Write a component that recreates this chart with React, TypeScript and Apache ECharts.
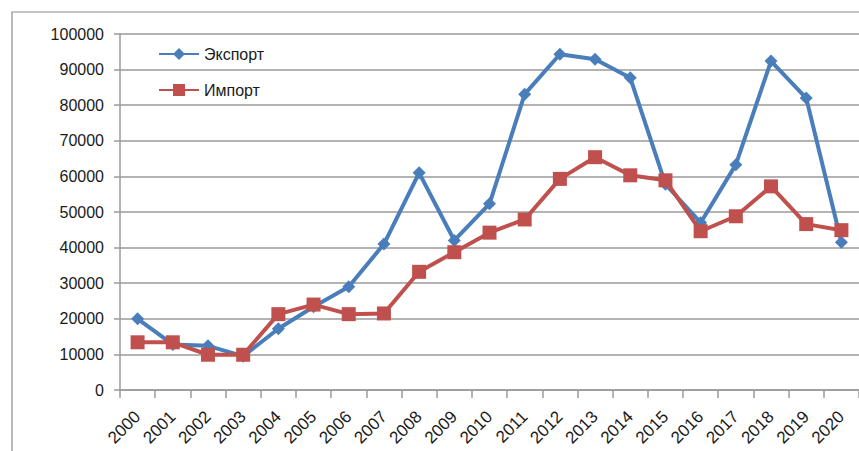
import React, { useEffect, useRef } from "react";
import * as echarts from "echarts";

const years = ["2000","2001","2002","2003","2004","2005","2006","2007","2008","2009","2010","2011","2012","2013","2014","2015","2016","2017","2018","2019","2020"];
const exportValues = [20000, 12800, 12400, 9500, 17200, 23400, 29000, 41000, 61000, 42000, 52300, 83100, 94300, 92900, 87700, 57800, 47000, 63300, 92400, 82000, 41500];
const importValues = [13400, 13400, 9900, 9900, 21300, 24000, 21300, 21500, 33200, 38700, 44200, 47900, 59300, 65400, 60300, 58900, 44600, 48800, 57200, 46600, 44900];
const yTicks = { min: 0, max: 100000, interval: 10000 };

export default function App() {
  const ref = useRef<HTMLDivElement>(null);
  useEffect(() => {
    document.body.style.margin = "0";
    const chart = echarts.init(ref.current!, undefined, { renderer: "svg" });
    const font = "'Liberation Sans', Arial, sans-serif";
    chart.setOption({
      animation: false,
      backgroundColor: "#ffffff",
      textStyle: { fontFamily: font },
      graphic: [
        {
          type: "rect",
          shape: { x: 12, y: 12, width: 900, height: 500 },
          style: { fill: "none", stroke: "#8c8c8c", lineWidth: 1.2 },
          z: -1,
        },
      ],
      legend: {
        orient: "vertical",
        left: 153,
        top: 41,
        itemGap: 20,
        itemWidth: 40,
        itemHeight: 15,
        textStyle: { fontSize: 16, color: "#1a1a1a", fontFamily: font },
        data: ["Экспорт", "Импорт"],
      },
      grid: { left: 120, right: -1, top: 34, bottom: 61 },
      xAxis: {
        type: "category",
        data: years,
        boundaryGap: true,
        axisLine: { lineStyle: { color: "#9a9a9a", width: 1.5 } },
        axisTick: { show: true, interval: 0, length: 8, lineStyle: { color: "#9a9a9a", width: 1.5 } },
        axisLabel: { interval: 0, rotate: 45, fontSize: 17, color: "#1a1a1a", margin: 24, fontFamily: font },
      },
      yAxis: {
        type: "value",
        min: yTicks.min,
        max: yTicks.max,
        interval: yTicks.interval,
        axisLine: { show: true, lineStyle: { color: "#9a9a9a", width: 1.5 } },
        axisTick: { show: true, length: 6, lineStyle: { color: "#9a9a9a", width: 1.5 } },
        axisLabel: { fontSize: 16, color: "#1a1a1a", margin: 16, fontFamily: font, formatter: (v: number) => String(v) },
        splitLine: { lineStyle: { color: "#9a9a9a", width: 1.5 } },
      },
      series: [
        {
          name: "Экспорт",
          type: "line",
          data: exportValues,
          symbol: "diamond",
          symbolSize: 13,
          lineStyle: { color: "#4a7ebb", width: 4 },
          itemStyle: { color: "#4a7ebb" },
          z: 2,
        },
        {
          name: "Импорт",
          type: "line",
          data: importValues,
          symbol: "rect",
          symbolSize: 14,
          lineStyle: { color: "#c0504d", width: 4 },
          itemStyle: { color: "#c0504d" },
          z: 3,
        },
      ],
    });
    return () => chart.dispose();
  }, []);
  return <div ref={ref} style={{ width: 859, height: 451 }} />;
}
